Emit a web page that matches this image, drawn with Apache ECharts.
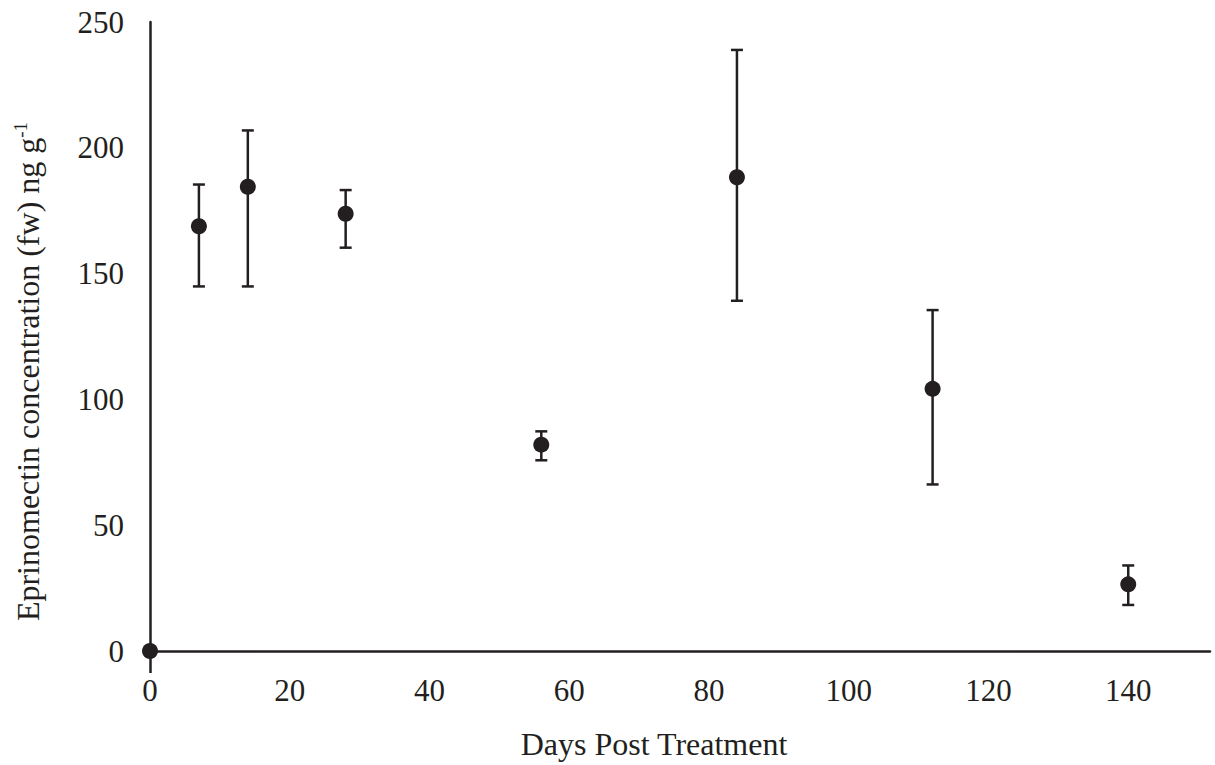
<!DOCTYPE html>
<html>
<head>
<meta charset="utf-8">
<style>
  html, body { margin: 0; padding: 0; background: #fff; }
  #chart { width: 1215px; height: 765px; }
</style>
<script src="https://cdn.jsdelivr.net/npm/echarts@6/dist/echarts.min.js"></script>
</head>
<body>
<div id="chart"></div>
<script>
// days after treatment, mean concentration and error bar ends
var days = [0, 7, 14, 28, 56, 84, 112, 140];
var means = [0, 168.8, 184.5, 173.8, 82.0, 188.3, 104.2, 26.5];
var upper = [0, 185.4, 206.9, 183.2, 87.3, 238.9, 135.5, 34.0];
var lower = [0, 144.9, 144.9, 160.3, 75.8, 139.2, 66.2, 18.3];

var ink = '#231f20';
var font = '"Liberation Serif", "Times New Roman", serif';

var chart = echarts.init(document.getElementById('chart'), null, { renderer: 'svg' });

var points = days.map(function (d, i) { return [d, means[i]]; });
var bars = days.map(function (d, i) { return [d, lower[i], upper[i]]; })
  .filter(function (b) { return b[2] > b[1]; });

chart.setOption({
  animation: false,
  backgroundColor: '#fff',
  textStyle: { fontFamily: font, color: ink },
  grid: { left: 150, right: 5, top: 22, bottom: 112, containLabel: false },
  xAxis: {
    type: 'value',
    min: 0,
    max: 151.7,
    interval: 20,
    name: 'Days Post Treatment',
    nameLocation: 'middle',
    nameGap: 77,
    nameTextStyle: { fontFamily: font, fontSize: 32, color: ink, padding: [0, 52, 0, 0] },
    axisLine: { lineStyle: { color: ink, width: 2.5 } },
    // only the tick at 0 shows, it looks like the y axis running below the x axis
    axisTick: { show: true, customValues: [0], inside: false, length: 22, lineStyle: { color: ink, width: 2.5 } },
    splitLine: { show: false },
    axisLabel: { fontFamily: font, fontSize: 31, color: ink, margin: 24, showMaxLabel: false }
  },
  yAxis: {
    type: 'value',
    min: 0,
    max: 250,
    interval: 50,
    name: '{t|Eprinomectin concentration (fw) ng g}{s|-1}',
    nameLocation: 'middle',
    nameRotate: 90,
    nameGap: 106,
    nameTextStyle: {
      fontFamily: font, color: ink, padding: [0, 70, 0, 0],
      rich: {
        t: { fontFamily: font, fontSize: 32, color: ink },
        s: { fontFamily: font, fontSize: 19, color: ink, verticalAlign: 'top', padding: [0, 0, 14, 0] }
      }
    },
    axisLine: { show: true, lineStyle: { color: ink, width: 2.5 } },
    axisTick: { show: false },
    splitLine: { show: false },
    axisLabel: { fontFamily: font, fontSize: 31, color: ink, margin: 26 }
  },
  series: [
    {
      type: 'custom',
      renderItem: function (params, api) {
        var x = api.value(0);
        var lo = api.coord([x, api.value(1)]);
        var hi = api.coord([x, api.value(2)]);
        var cap = 6;
        var st = { stroke: ink, lineWidth: 2.5 };
        return {
          type: 'group',
          children: [
            { type: 'line', shape: { x1: lo[0], y1: lo[1], x2: hi[0], y2: hi[1] }, style: st },
            { type: 'line', shape: { x1: hi[0] - cap, y1: hi[1], x2: hi[0] + cap, y2: hi[1] }, style: st },
            { type: 'line', shape: { x1: lo[0] - cap, y1: lo[1], x2: lo[0] + cap, y2: lo[1] }, style: st }
          ]
        };
      },
      encode: { x: 0, y: [1, 2] },
      data: bars,
      z: 2
    },
    {
      type: 'scatter',
      symbol: 'circle',
      symbolSize: 16,
      itemStyle: { color: ink, opacity: 1 },
      data: points,
      z: 3
    }
  ]
});
</script>
</body>
</html>
